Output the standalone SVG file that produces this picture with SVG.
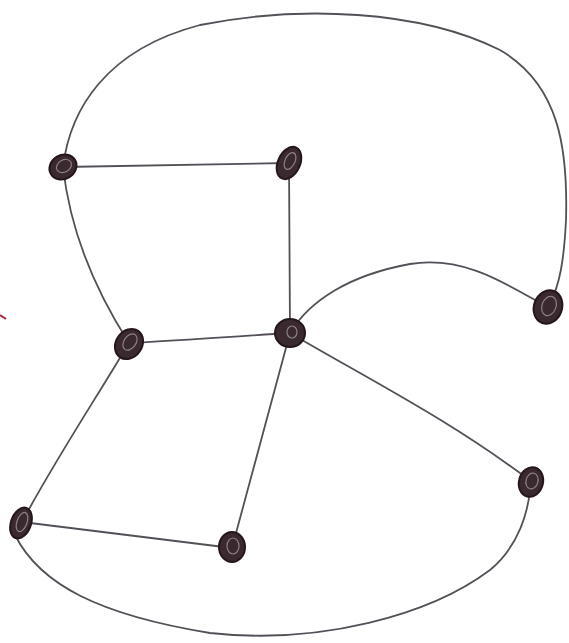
<svg xmlns="http://www.w3.org/2000/svg" width="569" height="643" viewBox="0 0 569 643">
<style>
.e{fill:none;stroke:#555058;stroke-width:1.8;stroke-linecap:round}
.n{fill:#3a2a30;stroke:#24161b;stroke-width:2}
.s{fill:none;stroke:#8c8088;stroke-width:1.2}
</style>
<rect width="569" height="643" fill="#ffffff"/>
<path d="M0,315 L6,319" stroke="#a8283e" stroke-width="2" fill="none"/>
<g id="connectors">
<path class="e" d="M63,167 L289,163"/>
<path class="e" d="M289,163 L290,333"/>
<path class="e" d="M63,167 C70,230 95,290 129,343"/>
<path class="e" d="M129,343 C190,340 240,336 290,333"/>
<path class="e" d="M63,167 C70,110 105,50 200,25 C300,5 420,10 500,50 C560,85 568,150 566,220 C564,260 560,285 549,305"/>
<path class="e" d="M290,333 C310,300 350,275 410,264 C460,256 500,280 535,300"/>
<path class="e" d="M290,333 L232,548"/>
<path class="e" d="M290,333 C370,380 450,420 532,482"/>
<path class="e" d="M129,343 C95,400 55,460 22,522"/>
<path class="e" d="M22,522 L232,548"/>
<path class="e" d="M15,535 C40,585 100,615 210,633 C320,645 430,615 490,570 C520,545 528,510 530,490"/>
</g>
<g id="A"><ellipse class="n" cx="63" cy="167" rx="14" ry="12" transform="rotate(-30 63 167)"/><ellipse class="s" cx="64" cy="166" rx="8" ry="6" transform="rotate(-30 64 166)"/></g>
<g id="B"><ellipse class="n" cx="289" cy="163" rx="11" ry="17" transform="rotate(25 289 163)"/><ellipse class="s" cx="290" cy="161" rx="5" ry="9" transform="rotate(25 290 161)"/></g>
<g id="C"><ellipse class="n" cx="129" cy="344" rx="13" ry="16" transform="rotate(35 129 344)"/><ellipse class="s" cx="130" cy="342" rx="6" ry="9" transform="rotate(35 130 342)"/></g>
<g id="D"><ellipse class="n" cx="290" cy="333" rx="15" ry="14"/><ellipse class="s" cx="292" cy="332" rx="5" ry="6"/></g>
<g id="E"><ellipse class="n" cx="548" cy="307" rx="14" ry="17" transform="rotate(20 548 307)"/><ellipse class="s" cx="549" cy="306" rx="7" ry="10" transform="rotate(20 549 306)"/></g>
<g id="F"><ellipse class="n" cx="531" cy="482" rx="12" ry="15" transform="rotate(15 531 482)"/><ellipse class="s" cx="532" cy="481" rx="6" ry="8" transform="rotate(15 532 481)"/></g>
<g id="G"><ellipse class="n" cx="21" cy="523" rx="10" ry="16" transform="rotate(20 21 523)"/><ellipse class="s" cx="22" cy="522" rx="5" ry="10" transform="rotate(20 22 522)"/></g>
<g id="H"><ellipse class="n" cx="232" cy="547" rx="13" ry="15"/><ellipse class="s" cx="233" cy="546" rx="6" ry="8"/></g>
</svg>
